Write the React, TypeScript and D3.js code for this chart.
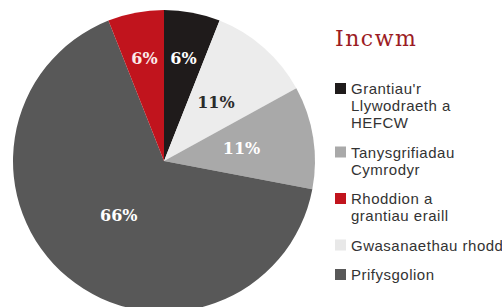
import React from "react";
import * as d3 from "d3";

const categories = [
  "Grantiau'r Llywodraeth a HEFCW",
  "Gwasanaethau rhodd",
  "Tanysgrifiadau Cymrodyr",
  "Prifysgolion",
  "Rhoddion a grantiau eraill",
];
const values = [6, 11, 11, 66, 6];
const sliceColors = ["#1f1b1b", "#ececec", "#a9a9a9", "#585858", "#c1141d"];
const labelColors = ["#ffffff", "#2b2b2b", "#ffffff", "#ffffff", "#fbeaea"];

const legendLines = [
  ["Grantiau'r", "Llywodraeth a", "HEFCW"],
  ["Tanysgrifiadau", "Cymrodyr"],
  ["Rhoddion a", "grantiau eraill"],
  ["Gwasanaethau rhodd"],
  ["Prifysgolion"],
];
const legendSquareColors = ["#1f1b1b", "#a9a9a9", "#c1141d", "#e8e8e8", "#585858"];
const title = "Incwm";

export default function App() {
  const W = 502, H = 307;
  const cx = 164, cy = 161, R = 151;
  const pie = d3.pie<number>().value((d) => d).sort(null);
  const arcs = pie(values);
  const arcGen = d3.arc<d3.PieArcDatum<number>>().innerRadius(0).outerRadius(R);

  const lineH = 17, gap = 12.5;
  let y = 94;
  const legendItems = legendLines.map((lines, i) => {
    const item = { lines, y, color: legendSquareColors[i] };
    y += lines.length * lineH + gap;
    return item;
  });

  return (
    <svg width={W} height={H} style={{ position: "absolute", left: 0, top: 0, background: "#fff" }}>
      <g transform={`translate(${cx},${cy})`}>
        {arcs.map((a, i) => (
          <path key={i} d={arcGen(a) || ""} fill={sliceColors[i]} />
        ))}
        {arcs.map((a, i) => {
          const mid = (a.startAngle + a.endAngle) / 2;
          const lr = values[i] < 8 ? R * 0.69 : values[i] < 50 ? R * 0.52 : R * 0.47;
          const x = Math.sin(mid) * lr;
          const yy = -Math.cos(mid) * lr;
          return (
            <text
              key={i}
              x={x}
              y={yy}
              dy="0.36em"
              textAnchor="middle"
              fill={labelColors[i]}
              style={{ fontFamily: "DejaVu Serif", fontWeight: "bold", fontSize: 16 }}
            >
              {values[i]}%
            </text>
          );
        })}
      </g>
      <text x={335} y={46} fill="#9c1c24" style={{ fontFamily: "DejaVu Serif", fontSize: 22, letterSpacing: 1.5 }}>
        {title}
      </text>
      {legendItems.map((it, i) => (
        <g key={i}>
          <rect x={335} y={it.y - 11} width={11} height={11} fill={it.color} />
          {it.lines.map((l, j) => (
            <text
              key={j}
              x={351}
              y={it.y + j * lineH}
              fill="#333"
              style={{ fontFamily: "Liberation Sans", fontSize: 15, letterSpacing: 0.5 }}
            >
              {l}
            </text>
          ))}
        </g>
      ))}
    </svg>
  );
}
